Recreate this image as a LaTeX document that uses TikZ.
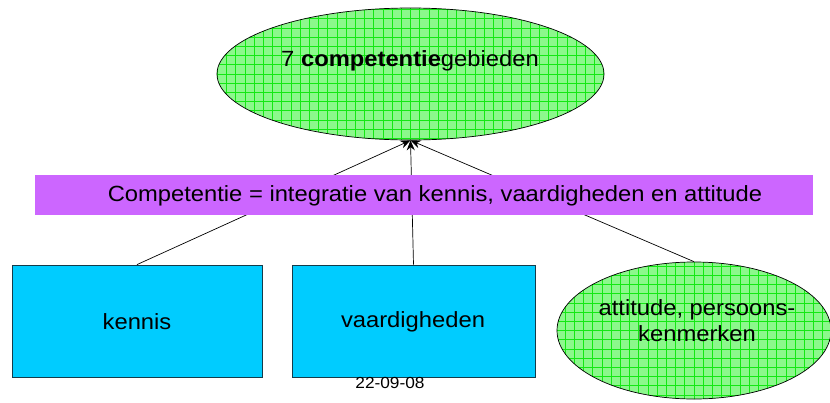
\documentclass[tikz,border=0pt]{standalone}
\usepackage{fontspec}
\setmainfont{Liberation Sans}[FakeStretch=1.08]
\usetikzlibrary{arrows.meta,shapes.geometric,shadows}
\definecolor{cellgreen}{RGB}{140,248,140}
\definecolor{gridgreen}{RGB}{20,232,20}
\definecolor{boxcyan}{RGB}{0,204,255}
\definecolor{bandpurple}{RGB}{204,102,255}
\definecolor{boxedge}{RGB}{20,60,75}
\tikzset{
  bigtxt/.style={font=\fontsize{22}{26}\selectfont, text=black},
  gridell/.style={ellipse, draw=black, line width=0.7pt, fill=cellgreen, inner sep=0pt,
    path picture={\draw[gridgreen, line width=0.7pt, step=9.2pt]
      ([shift={(-10pt,-10pt)}]path picture bounding box.south west) grid
      ([shift={(10pt,10pt)}]path picture bounding box.north east);}},
  cyanbox/.style={rectangle, draw=boxedge, line width=0.8pt, fill=boxcyan, inner sep=0pt,
    drop shadow={shadow xshift=1pt, shadow yshift=-1.2pt, fill=boxedge, opacity=1}},
  conn/.style={draw=black, line width=0.7pt, -{Stealth[length=10pt,width=8pt]}},
}
\begin{document}
\begin{tikzpicture}[x=1pt,y=-1pt]
\useasboundingbox (0,0) rectangle (830,402);
% top ellipse
\node[gridell, minimum width=387pt, minimum height=132pt] (top) at (410.5,74) {};
\node[bigtxt] (toptext) at (410,61) {7 \textbf{competentie}gebieden};
% bottom boxes
\node[cyanbox, minimum width=250pt, minimum height=112pt] (kennis) at (137,321) {};
\node[bigtxt] (kennistext) at (137,322) {kennis};
\node[cyanbox, minimum width=243pt, minimum height=112pt] (vaard) at (413.5,321) {};
\node[bigtxt] (vaardtext) at (413,322) {vaardigheden};
\node[gridell, minimum width=274pt, minimum height=137pt] (att) at (694,330.5) {};
\node[bigtxt, align=center] (atttext) at (697,321) {attitude, persoons-\\kenmerken};
% footer
\node[font=\fontsize{16}{19}\selectfont] (date) at (390,383) {22-09-08};
% connectors
\draw[conn] (kennis.north) -- (top.south);
\draw[conn] (vaard.north) -- (top.south);
\draw[conn] (att.north) -- (top.south);
% band on top
\node[rectangle, fill=bandpurple, minimum width=778pt, minimum height=40pt, inner sep=0pt] (band) at (424,195) {};
\node[bigtxt] (bandtext) at (435,196) {Competentie = integratie van kennis, vaardigheden en attitude};
\end{tikzpicture}
\end{document}
